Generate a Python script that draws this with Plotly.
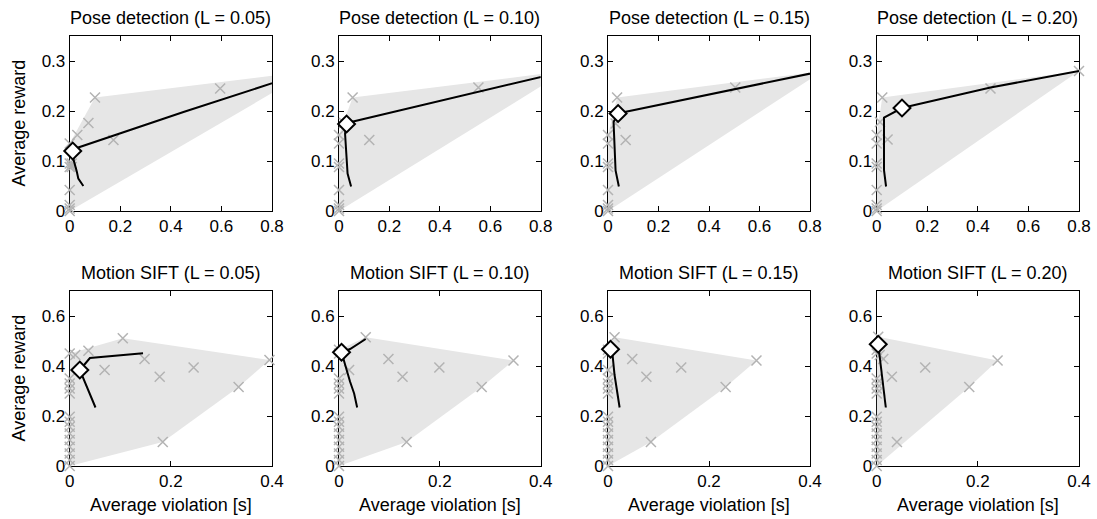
import plotly.graph_objects as go

W, H = 1097, 519

L_labels = ["0.05", "0.10", "0.15", "0.20"]

# ---------------- Pose detection (top row) ----------------
pose_zero_y = [0.0, 0.005, 0.012, 0.042, 0.088, 0.095, 0.135]
pose_pts_x = [
    [0.008, 0.008, 0.03, 0.074, 0.10, 0.173, 0.595, 0.95],
    [0.0, 0.02, 0.054, 0.120, 0.553, 0.90],
    [0.0, 0.03, 0.036, 0.070, 0.504, 0.85],
    [0.0, 0.013, 0.022, 0.043, 0.45, 0.80],
]
pose_pts_y = [
    [0.088, 0.095, 0.152, 0.176, 0.227, 0.142, 0.245, 0.28],
    [0.152, 0.176, 0.227, 0.142, 0.247, 0.28],
    [0.152, 0.175, 0.227, 0.142, 0.247, 0.28],
    [0.152, 0.178, 0.227, 0.143, 0.245, 0.28],
]
pose_line_x = [
    [0.054, 0.034, 0.028, 0.014, 0.012, 0.034, 0.45, 0.95],
    [0.048, 0.034, 0.024, 0.030, 0.048, 0.90],
    [0.043, 0.030, 0.022, 0.040, 0.066, 0.85],
    [0.037, 0.029, 0.029, 0.10, 0.15, 0.45, 0.80],
]
pose_line_y = [
    [0.050, 0.065, 0.079, 0.105, 0.120, 0.127, 0.198, 0.28],
    [0.049, 0.075, 0.155, 0.174, 0.178, 0.28],
    [0.049, 0.081, 0.178, 0.195, 0.198, 0.28],
    [0.049, 0.081, 0.187, 0.206, 0.212, 0.247, 0.28],
]
pose_sel_x = [0.012, 0.030, 0.040, 0.10]
pose_sel_y = [0.120, 0.174, 0.195, 0.206]

# ---------------- Motion SIFT (bottom row) ----------------
sift_zero_y = [0.0, 0.024, 0.05, 0.077, 0.104, 0.13, 0.157, 0.177, 0.197,
               0.29, 0.31, 0.33, 0.35, 0.45]
sift_pts_x = [
    [0.011, 0.037, 0.105, 0.069, 0.148, 0.178, 0.245, 0.395, 0.334, 0.184],
    [0.0, 0.053, 0.098, 0.126, 0.199, 0.346, 0.283, 0.134, 0.020],
    [0.0, 0.013, 0.048, 0.076, 0.145, 0.294, 0.233, 0.085, 0.0],
    [0.0, 0.003, 0.013, 0.030, 0.096, 0.239, 0.183, 0.040, 0.006],
]
sift_pts_y = [
    [0.444, 0.461, 0.511, 0.384, 0.428, 0.357, 0.394, 0.424, 0.316, 0.096],
    [0.465, 0.515, 0.428, 0.357, 0.394, 0.422, 0.316, 0.096, 0.384],
    [0.465, 0.515, 0.428, 0.357, 0.394, 0.422, 0.316, 0.096, 0.384],
    [0.465, 0.517, 0.428, 0.357, 0.394, 0.422, 0.316, 0.096, 0.444],
]
sift_line_x = [
    [0.051, 0.035, 0.020, 0.040, 0.145],
    [0.036, 0.030, 0.022, 0.010, 0.005, 0.022, 0.053],
    [0.023, 0.018, 0.013, 0.009, 0.005],
    [0.018, 0.014, 0.010, 0.005, 0.003],
]
sift_line_y = [
    [0.234, 0.310, 0.384, 0.432, 0.451],
    [0.234, 0.290, 0.337, 0.417, 0.455, 0.468, 0.508],
    [0.234, 0.300, 0.364, 0.444, 0.467],
    [0.234, 0.300, 0.364, 0.457, 0.487],
]
sift_sel_x = [0.020, 0.005, 0.005, 0.003]
sift_sel_y = [0.384, 0.455, 0.467, 0.487]

# ---------------- layout (pixels) ----------------
col_px = [(69.7, 272.0), (339.0, 540.7), (608.0, 810.0), (876.7, 1079.0)]
row_px = [(36.0, 211.0), (291.0, 466.0)]

HULL = "#e6e6e6"
GREY = "#b3b3b3"
FONT = "Liberation Sans, Arial, Helvetica, sans-serif"
TXT = 18
TICK = 17


def hull(points):
    pts = sorted(set(points))
    if len(pts) < 3:
        return pts

    def cross(o, a, b):
        return (a[0] - o[0]) * (b[1] - o[1]) - (a[1] - o[1]) * (b[0] - o[0])

    lower = []
    for p in pts:
        while len(lower) >= 2 and cross(lower[-2], lower[-1], p) <= 0:
            lower.pop()
        lower.append(p)
    upper = []
    for p in reversed(pts):
        while len(upper) >= 2 and cross(upper[-2], upper[-1], p) <= 0:
            upper.pop()
        upper.append(p)
    return lower[:-1] + upper[:-1]


fig = go.Figure()
annotations = []

rows = [
    dict(name="Pose detection", zero=pose_zero_y, px=pose_pts_x, py=pose_pts_y,
         lx=pose_line_x, ly=pose_line_y, sx=pose_sel_x, sy=pose_sel_y,
         xr=[0, 0.8], yr=[0, 0.35], xt=[0, 0.2, 0.4, 0.6, 0.8],
         yt=[0, 0.1, 0.2, 0.3]),
    dict(name="Motion SIFT", zero=sift_zero_y, px=sift_pts_x, py=sift_pts_y,
         lx=sift_line_x, ly=sift_line_y, sx=sift_sel_x, sy=sift_sel_y,
         xr=[0, 0.4], yr=[0, 0.7], xt=[0, 0.2, 0.4], yt=[0, 0.2, 0.4, 0.6]),
]

idx = 0
for r, row in enumerate(rows):
    for c in range(4):
        idx += 1
        xa = "x" if idx == 1 else f"x{idx}"
        ya = "y" if idx == 1 else f"y{idx}"
        xs = [0.0] * len(row["zero"]) + row["px"][c]
        ys = list(row["zero"]) + row["py"][c]
        hp = hull(list(zip(xs, ys)))
        hx = [p[0] for p in hp] + [hp[0][0]]
        hy = [p[1] for p in hp] + [hp[0][1]]
        fig.add_trace(go.Scatter(x=hx, y=hy, mode="lines", fill="toself",
                                 fillcolor=HULL, line=dict(width=0, color=HULL),
                                 xaxis=xa, yaxis=ya, showlegend=False,
                                 hoverinfo="skip"))
        vx, vy = [], []
        for a, b in zip(xs, ys):
            if row["xr"][0] <= a <= row["xr"][1] + 1e-9 and row["yr"][0] <= b <= row["yr"][1]:
                vx.append(a)
                vy.append(b)
        fig.add_trace(go.Scatter(x=vx, y=vy, mode="markers", cliponaxis=False,
                                 marker=dict(symbol="x-thin", size=10,
                                             line=dict(width=1.5, color=GREY),
                                             color=GREY),
                                 xaxis=xa, yaxis=ya, showlegend=False))
        fig.add_trace(go.Scatter(x=row["lx"][c], y=row["ly"][c], mode="lines",
                                 line=dict(color="black", width=2),
                                 xaxis=xa, yaxis=ya, showlegend=False))
        fig.add_trace(go.Scatter(x=[row["sx"][c]], y=[row["sy"][c]], mode="markers",
                                 cliponaxis=False,
                                 marker=dict(symbol="diamond", size=13, color="white",
                                             line=dict(color="black", width=2)),
                                 xaxis=xa, yaxis=ya, showlegend=False))

        x0, x1 = col_px[c]
        y0, y1 = row_px[r]
        axis_common = dict(showgrid=False, zeroline=False, showline=True,
                           linecolor="black", linewidth=1, mirror="ticks",
                           ticks="inside", ticklen=5, tickcolor="black",
                           automargin=False,
                           tickfont=dict(family=FONT, size=TICK, color="black"),
                           layer="below traces")
        fig.layout[f"xaxis{'' if idx == 1 else idx}"] = dict(
            domain=[x0 / W, x1 / W], range=row["xr"], tickvals=row["xt"],
            ticktext=[f"{v:g}" for v in row["xt"]], anchor=ya, **axis_common)
        fig.layout[f"yaxis{'' if idx == 1 else idx}"] = dict(
            domain=[1 - y1 / H, 1 - y0 / H], range=row["yr"], tickvals=row["yt"],
            ticktext=[f"{v:g}" for v in row["yt"]], anchor=xa, **axis_common)

        annotations.append(dict(text=f"{row['name']} (L = {L_labels[c]})",
                                x=(x0 + x1) / 2 / W, y=1 - (y0 - 18) / H,
                                xref="paper", yref="paper", showarrow=False,
                                xanchor="center", yanchor="middle",
                                font=dict(family=FONT, size=TXT, color="black")))
        if r == 1:
            annotations.append(dict(text="Average violation [s]",
                                    x=(x0 + x1) / 2 / W, y=1 - 505 / H,
                                    xref="paper", yref="paper", showarrow=False,
                                    xanchor="center", yanchor="middle",
                                    font=dict(family=FONT, size=TXT, color="black")))
        if c == 0:
            annotations.append(dict(text="Average reward", textangle=-90,
                                    x=18 / W, y=1 - (y0 + y1) / 2 / H,
                                    xref="paper", yref="paper", showarrow=False,
                                    xanchor="center", yanchor="middle",
                                    font=dict(family=FONT, size=TXT, color="black")))

fig.update_layout(template="none", width=W, height=H,
                  margin=dict(l=0, r=0, t=0, b=0, pad=0, autoexpand=False),
                  paper_bgcolor="white", plot_bgcolor="white",
                  annotations=annotations, showlegend=False)

fig.write_html("out.html",
               config={"displayModeBar": False},
               post_script="document.body.style.margin='0';"
                           "document.body.style.overflow='hidden';")
